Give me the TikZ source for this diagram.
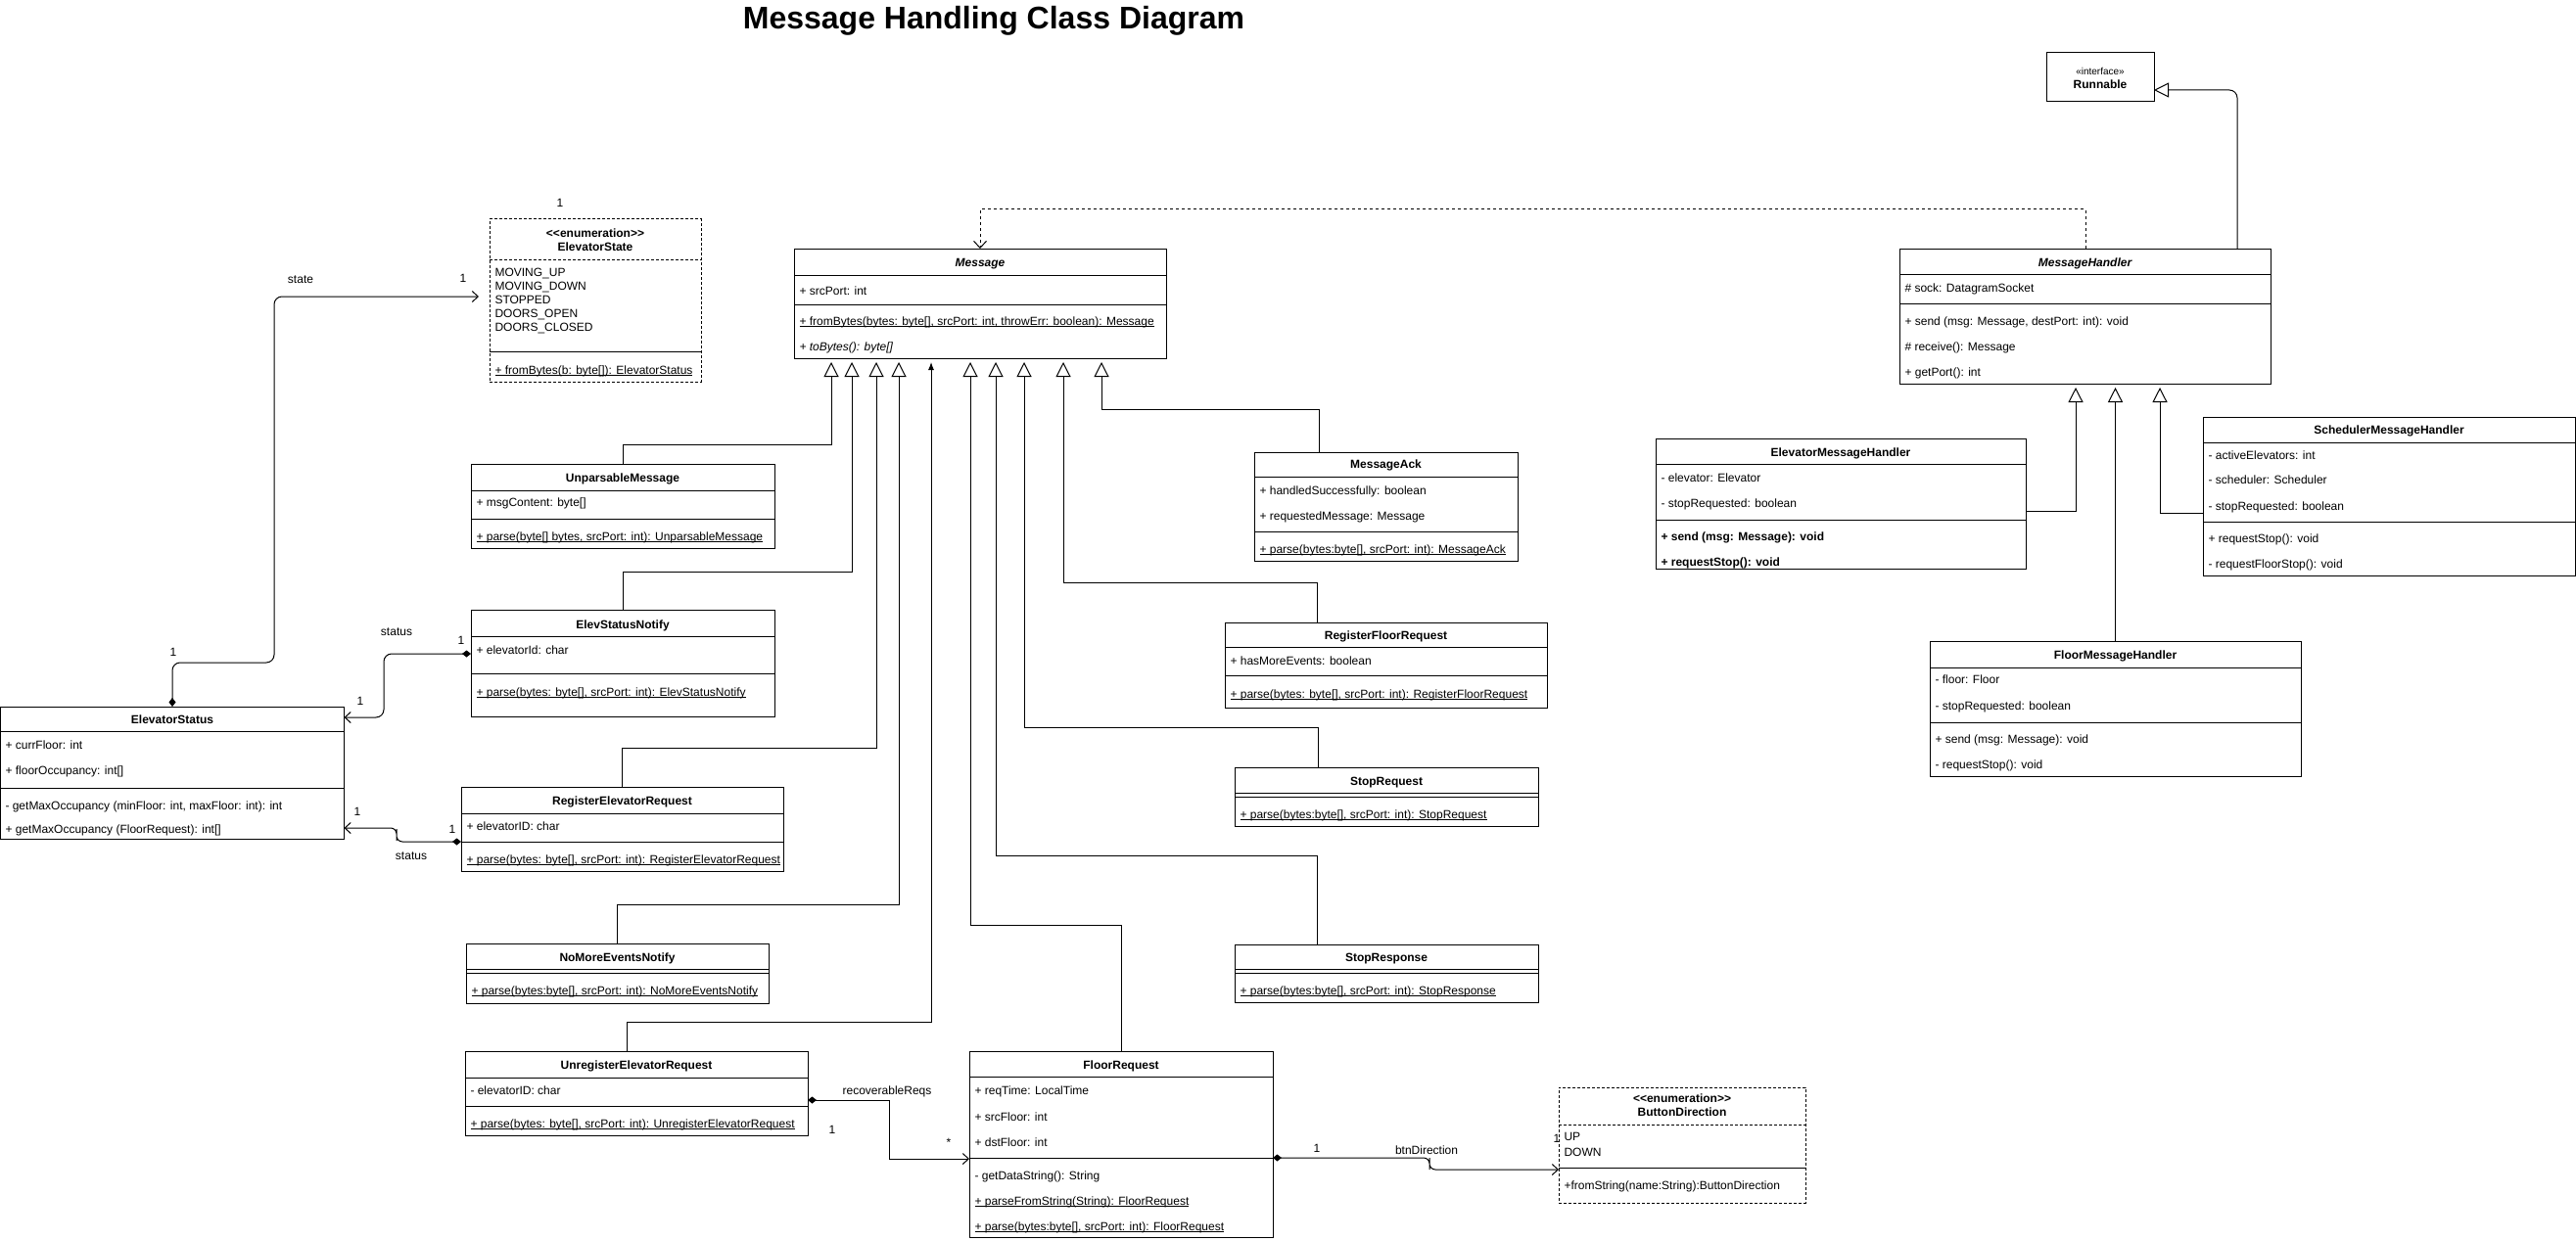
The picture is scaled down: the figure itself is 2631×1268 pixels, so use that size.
\documentclass[tikz,border=0pt]{standalone}
\usepackage{fontspec}
\setmainfont{Liberation Sans}
\usetikzlibrary{arrows.meta}
\newcommand{\staticop}[1]{\underline{\smash{#1}}}

\begin{document}
\fontsize{12}{14}\selectfont
\begin{tikzpicture}[x=1pt,y=-1pt,line width=1pt,
  umlbox/.style={draw, anchor=north west, inner sep=0pt, outer sep=0pt, fill=white},
  enumbox/.style={umlbox, dash pattern=on 3pt off 2pt},
  cname/.style={font=\bfseries, anchor=base, inner sep=0pt},
  cabstract/.style={font=\bfseries\itshape, anchor=base, inner sep=0pt},
  member/.style={anchor=base west, inner sep=0pt},
  lbl/.style={inner sep=0pt},
  gen/.style={-{Triangle[open,length=15pt,width=15pt,fill=white]}},
  assoc/.style={{Diamond[length=9pt,width=7pt]}-{Straight Barb[length=6pt,width=11pt]}},
  dep/.style={dash pattern=on 3pt off 3pt,-{Straight Barb[length=7pt,width=13pt]}}]
\useasboundingbox (0,0) rectangle (2631,1268);
\node[font=\fontsize{32}{38}\selectfont\bfseries] (title) at (1015,21) {Message Handling Class Diagram};

% enumeration ElevatorState
\node[enumbox, minimum width=216, minimum height=166] (ElevatorState) at (500,224) {};
\draw[dash pattern=on 3pt off 2pt] (ElevatorState.north west) ++(0,41) -- ++(216,0);
\draw (ElevatorState.north west) ++(0,135) -- ++(216,0);
\node[cname] (esStereo) at (608,242) {<\kern0pt<enumeration>\kern0pt>};
\node[cname] (esName) at (608,256) {ElevatorState};
\node[member] (esL1) at (505,282) {MOVING\_UP};
\node[member] (esL2) at (505,296) {MOVING\_DOWN};
\node[member] (esL3) at (505,310) {STOPPED};
\node[member] (esL4) at (505,324) {DOORS\_OPEN};
\node[member] (esL5) at (505,338) {DOORS\_CLOSED};
\node[member] (esM1) at (505,382) {\staticop{+ fromBytes(b: byte[]): ElevatorStatus}};

% ElevatorStatus
\node[umlbox, minimum width=351, minimum height=135] (ElevatorStatus) at (0.5,722) {};
\draw (ElevatorStatus.north west) ++(0,25) -- ++(351,0);
\draw (ElevatorStatus.north west) ++(0,83) -- ++(351,0);
\node[cname] (stName) at (176,739) {ElevatorStatus};
\node[member] (stA1) at (5,765) {+ currFloor: int};
\node[member] (stA2) at (5,791) {+ floorOccupancy: int[]};
\node[member] (stM1) at (5,827) {- getMaxOccupancy (minFloor: int, maxFloor: int): int};
\node[member] (stM2) at (5,851) {+ getMaxOccupancy (FloorRequest): int[]};

% UnparsableMessage
\node[umlbox, minimum width=310, minimum height=86] (UnparsableMessage) at (481,474) {};
\draw (UnparsableMessage.north west) ++(0,27) -- ++(310,0);
\draw (UnparsableMessage.north west) ++(0,56) -- ++(310,0);
\node[cname] (umName) at (636,492) {UnparsableMessage};
\node[member] (umA1) at (486,517) {+ msgContent: byte[]};
\node[member] (umM1) at (486,552) {\staticop{+ parse(byte[] bytes, srcPort: int): UnparsableMessage}};

% ElevStatusNotify
\node[umlbox, minimum width=310, minimum height=109] (ElevStatusNotify) at (481,623) {};
\draw (ElevStatusNotify.north west) ++(0,27) -- ++(310,0);
\draw (ElevStatusNotify.north west) ++(0,65) -- ++(310,0);
\node[cname] (snName) at (636,642) {ElevStatusNotify};
\node[member] (snA1) at (486,668) {+ elevatorId: char};
\node[member] (snM1) at (486,711) {\staticop{+ parse(bytes: byte[], srcPort: int): ElevStatusNotify}};

% RegisterElevatorRequest
\node[umlbox, minimum width=329, minimum height=86] (RegisterElevatorRequest) at (471,804) {};
\draw (RegisterElevatorRequest.north west) ++(0,27) -- ++(329,0);
\draw (RegisterElevatorRequest.north west) ++(0,56) -- ++(329,0);
\node[cname] (reName) at (635.5,822) {RegisterElevatorRequest};
\node[member] (reA1) at (476,848) {+ elevatorID: char};
\node[member] (reM1) at (476,882) {\staticop{+ parse(bytes: byte[], srcPort: int): RegisterElevatorRequest}};

% NoMoreEventsNotify
\node[umlbox, minimum width=309, minimum height=61] (NoMoreEventsNotify) at (476,964) {};
\draw (NoMoreEventsNotify.north west) ++(0,26) -- ++(309,0);
\draw (NoMoreEventsNotify.north west) ++(0,30) -- ++(309,0);
\node[cname] (nmName) at (630.5,982) {NoMoreEventsNotify};
\node[member] (nmM1) at (481,1016) {\staticop{+ parse(bytes:byte[], srcPort: int): NoMoreEventsNotify}};

% UnregisterElevatorRequest
\node[umlbox, minimum width=350, minimum height=86] (UnregisterElevatorRequest) at (475,1074) {};
\draw (UnregisterElevatorRequest.north west) ++(0,27) -- ++(350,0);
\draw (UnregisterElevatorRequest.north west) ++(0,56) -- ++(350,0);
\node[cname] (urName) at (650,1092) {UnregisterElevatorRequest};
\node[member] (urA1) at (480,1118) {- elevatorID: char};
\node[member] (urM1) at (480,1152) {\staticop{+ parse(bytes: byte[], srcPort: int): UnregisterElevatorRequest}};

% Message
\node[umlbox, minimum width=380, minimum height=112] (Message) at (811,254) {};
\draw (Message.north west) ++(0,27) -- ++(380,0);
\draw (Message.north west) ++(0,57) -- ++(380,0);
\node[cabstract] (msgName) at (1001,272) {Message};
\node[member] (msgA1) at (816,301) {+ srcPort: int};
\node[member] (msgM1) at (816,332) {\staticop{+ fromBytes(bytes: byte[], srcPort: int, throwErr: boolean): Message}};
\node[member] (msgM2) at (816,358) {\itshape + toBytes(): byte[]};

% MessageAck
\node[umlbox, minimum width=269, minimum height=111] (MessageAck) at (1281,462) {};
\draw (MessageAck.north west) ++(0,25) -- ++(269,0);
\draw (MessageAck.north west) ++(0,81) -- ++(269,0);
\node[cname] (maName) at (1415.5,478) {MessageAck};
\node[member] (maA1) at (1286,505) {+ handledSuccessfully: boolean};
\node[member] (maA2) at (1286,531) {+ requestedMessage: Message};
\node[member] (maM1) at (1286,565) {\staticop{+ parse(bytes:byte[], srcPort: int): MessageAck}};

% RegisterFloorRequest
\node[umlbox, minimum width=329, minimum height=87] (RegisterFloorRequest) at (1251,636) {};
\draw (RegisterFloorRequest.north west) ++(0,25) -- ++(329,0);
\draw (RegisterFloorRequest.north west) ++(0,54) -- ++(329,0);
\node[cname] (rfName) at (1415.5,653) {RegisterFloorRequest};
\node[member] (rfA1) at (1256,679) {+ hasMoreEvents: boolean};
\node[member] (rfM1) at (1256,713) {\staticop{+ parse(bytes: byte[], srcPort: int): RegisterFloorRequest}};

% StopRequest
\node[umlbox, minimum width=310, minimum height=60] (StopRequest) at (1261,784) {};
\draw (StopRequest.north west) ++(0,26) -- ++(310,0);
\draw (StopRequest.north west) ++(0,30) -- ++(310,0);
\node[cname] (sqName) at (1416,802) {StopRequest};
\node[member] (sqM1) at (1266,836) {\staticop{+ parse(bytes:byte[], srcPort: int): StopRequest}};

% StopResponse
\node[umlbox, minimum width=310, minimum height=59] (StopResponse) at (1261,965) {};
\draw (StopResponse.north west) ++(0,25) -- ++(310,0);
\draw (StopResponse.north west) ++(0,29) -- ++(310,0);
\node[cname] (spName) at (1416,982) {StopResponse};
\node[member] (spM1) at (1266,1016) {\staticop{+ parse(bytes:byte[], srcPort: int): StopResponse}};

% FloorRequest
\node[umlbox, minimum width=310, minimum height=190] (FloorRequest) at (990,1074) {};
\draw (FloorRequest.north west) ++(0,26) -- ++(310,0);
\draw (FloorRequest.north west) ++(0,109) -- ++(310,0);
\node[cname] (frName) at (1145,1092) {FloorRequest};
\node[member] (frA1) at (995,1118) {+ reqTime: LocalTime};
\node[member] (frA2) at (995,1145) {+ srcFloor: int};
\node[member] (frA3) at (995,1171) {+ dstFloor: int};
\node[member] (frM1) at (995,1205) {- getDataString(): String};
\node[member] (frM2) at (995,1231) {\staticop{+ parseFromString(String): FloorRequest}};
\node[member] (frM3) at (995,1257) {\staticop{+ parse(bytes:byte[], srcPort: int): FloorRequest}};

% enumeration ButtonDirection
\node[enumbox, minimum width=252, minimum height=118] (ButtonDirection) at (1592,1111) {};
\draw[dash pattern=on 3pt off 2pt] (ButtonDirection.north west) ++(0,38) -- ++(252,0);
\draw (ButtonDirection.north west) ++(0,82) -- ++(252,0);
\node[cname] (bdStereo) at (1718,1126) {<\kern0pt<enumeration>\kern0pt>};
\node[cname] (bdName) at (1718,1140) {ButtonDirection};
\node[member] (bdL1) at (1597,1165) {UP};
\node[member] (bdL2) at (1597,1181) {DOWN};
\node[member] (bdM1) at (1597,1215) {+fromString(name:String):ButtonDirection};

% interface Runnable
\node[umlbox, minimum width=110, minimum height=50] (Runnable) at (2090,54) {};
\node[anchor=base, inner sep=0pt, font=\fontsize{10}{12}\selectfont] (rnStereo) at (2145,77) {«interface»};
\node[cname] (rnName) at (2145,91) {Runnable};

% MessageHandler
\node[umlbox, minimum width=379, minimum height=138] (MessageHandler) at (1940,254) {};
\draw (MessageHandler.north west) ++(0,26) -- ++(379,0);
\draw (MessageHandler.north west) ++(0,56) -- ++(379,0);
\node[cabstract] (mhName) at (2129.5,272) {MessageHandler};
\node[member] (mhA1) at (1945,298) {\# sock: DatagramSocket};
\node[member] (mhM1) at (1945,332) {+ send (msg: Message, destPort: int): void};
\node[member] (mhM2) at (1945,358) {\# receive(): Message};
\node[member] (mhM3) at (1945,384) {+ getPort(): int};

% ElevatorMessageHandler
\node[umlbox, minimum width=378, minimum height=133] (ElevatorMessageHandler) at (1691,448) {};
\draw (ElevatorMessageHandler.north west) ++(0,26) -- ++(378,0);
\draw (ElevatorMessageHandler.north west) ++(0,83) -- ++(378,0);
\node[cname] (ehName) at (1880,466) {ElevatorMessageHandler};
\node[member] (ehA1) at (1696,492) {- elevator: Elevator};
\node[member] (ehA2) at (1696,518) {- stopRequested: boolean};
\node[member] (ehM1) at (1696,552) {\bfseries + send (msg: Message): void};
\node[member] (ehM2) at (1696,578) {\bfseries + requestStop(): void};

% SchedulerMessageHandler
\node[umlbox, minimum width=380, minimum height=162] (SchedulerMessageHandler) at (2250,426) {};
\draw (SchedulerMessageHandler.north west) ++(0,26) -- ++(380,0);
\draw (SchedulerMessageHandler.north west) ++(0,107) -- ++(380,0);
\node[cname] (shName) at (2440,443) {SchedulerMessageHandler};
\node[member] (shA1) at (2255,469) {- activeElevators: int};
\node[member] (shA2) at (2255,494) {- scheduler: Scheduler};
\node[member] (shA3) at (2255,521) {- stopRequested: boolean};
\node[member] (shM1) at (2255,554) {+ requestStop(): void};
\node[member] (shM2) at (2255,580) {- requestFloorStop(): void};

% FloorMessageHandler
\node[umlbox, minimum width=379, minimum height=138] (FloorMessageHandler) at (1971,655) {};
\draw (FloorMessageHandler.north west) ++(0,27) -- ++(379,0);
\draw (FloorMessageHandler.north west) ++(0,83) -- ++(379,0);
\node[cname] (fhName) at (2160.5,673) {FloorMessageHandler};
\node[member] (fhA1) at (1976,698) {- floor: Floor};
\node[member] (fhA2) at (1976,725) {- stopRequested: boolean};
\node[member] (fhM1) at (1976,759) {+ send (msg: Message): void};
\node[member] (fhM2) at (1976,785) {- requestStop(): void};

% generalisations to Message
\coordinate (g1) at ([xshift=38pt,yshift=-4pt]Message.south west);
\coordinate (g2) at ([xshift=59pt,yshift=-4pt]Message.south west);
\coordinate (g3) at ([xshift=84pt,yshift=-4pt]Message.south west);
\coordinate (g4) at ([xshift=107pt,yshift=-4pt]Message.south west);
\coordinate (g5) at ([xshift=140pt,yshift=-4pt]Message.south west);
\coordinate (g6) at ([xshift=180pt,yshift=-4pt]Message.south west);
\coordinate (g7) at ([xshift=206pt,yshift=-4pt]Message.south west);
\coordinate (g8) at ([xshift=235pt,yshift=-4pt]Message.south west);
\coordinate (g9) at ([xshift=275pt,yshift=-4pt]Message.south west);
\coordinate (g10) at ([xshift=314pt,yshift=-4pt]Message.south west);
\draw[gen] (UnparsableMessage.north) -- ++(0,-20) -| (g1);
\draw[gen] (ElevStatusNotify.north) -- ++(0,-39) -| (g2);
\draw[gen] (RegisterElevatorRequest.north) -- ++(0,-40) -| (g3);
\draw[gen] (NoMoreEventsNotify.north) -- ++(0,-40) -| (g4);
\draw[-{Latex[length=8pt,width=6pt]}] ([xshift=165pt]UnregisterElevatorRequest.north west) -- ++(0,-30) -| (g5);
\draw[gen] (FloorRequest.north) -- ++(0,-129) -| (g6);
\draw[gen] ([xshift=84pt]StopResponse.north west) -- ++(0,-91) -| (g7);
\draw[gen] ([xshift=85pt]StopRequest.north west) -- ++(0,-41) -| (g8);
\draw[gen] ([xshift=94pt]RegisterFloorRequest.north west) -- ++(0,-41) -| (g9);
\draw[gen] ([xshift=66pt]MessageAck.north west) -- ++(0,-44) -| (g10);

% generalisations to MessageHandler and Runnable
\coordinate (h1) at ([xshift=180pt,yshift=-4pt]MessageHandler.south west);
\coordinate (h2) at ([xshift=220.5pt,yshift=-4pt]MessageHandler.south west);
\coordinate (h3) at ([xshift=266pt,yshift=-4pt]MessageHandler.south west);
\draw[gen] ([yshift=-7.5pt]ElevatorMessageHandler.east) -| (h1);
\draw[gen] (FloorMessageHandler.north) -- (h2);
\draw[gen] ([yshift=-17pt]SchedulerMessageHandler.west) -| (h3);
\draw[gen, rounded corners=8pt] ([xshift=345pt]MessageHandler.north west) |- ([yshift=-13pt]Runnable.east);
\draw[dep] ([xshift=190pt]MessageHandler.north west) -- ++(0,-40) -| (Message.north);

% associations
\coordinate (esIn) at ([xshift=-11pt,yshift=4pt]ElevatorState.west);
\draw[assoc, rounded corners=8pt] (ElevatorStatus.north) |- (280,677) |- (esIn);
\draw[assoc, rounded corners=8pt] ([yshift=9.5pt]ElevStatusNotify.west) -| (392,700) |- ([yshift=56.5pt]ElevatorStatus.east);
\draw[assoc, rounded corners=6pt] ([yshift=-13pt]RegisterElevatorRequest.west) -| (405,853) |- ([yshift=-56.5pt]ElevatorStatus.east);
\draw[assoc] ([yshift=-7pt]UnregisterElevatorRequest.east) -| (908,1150) |- ([yshift=-15pt]FloorRequest.west);
\draw[assoc, rounded corners=6pt] ([yshift=-14pt]FloorRequest.east) -| (1460,1189) |- ([yshift=-25pt]ButtonDirection.west);

% labels
\node[lbl] (esMult) at (572,207) {1};
\node[lbl] (stateL) at (307,286) {state};
\node[lbl] (stateM1) at (473,284) {1};
\node[lbl] (stateM2) at (177,666) {1};
\node[lbl] (st1L) at (405,646) {status};
\node[lbl] (st1M1) at (471,654) {1};
\node[lbl] (st1M2) at (368,716) {1};
\node[lbl] (st2L) at (420,875) {status};
\node[lbl] (st2M1) at (462,847) {1};
\node[lbl] (st2M2) at (365,829) {1};
\node[lbl] (recL) at (906,1115) {recoverableReqs};
\node[lbl] (recM1) at (850,1154) {1};
\node[lbl] (recM2) at (969,1167) {*};
\node[lbl] (btnM1) at (1345,1173) {1};
\node[lbl] (btnL) at (1457,1175) {btnDirection};
\node[lbl] (btnM2) at (1590,1163) {1};
\end{tikzpicture}
\end{document}
